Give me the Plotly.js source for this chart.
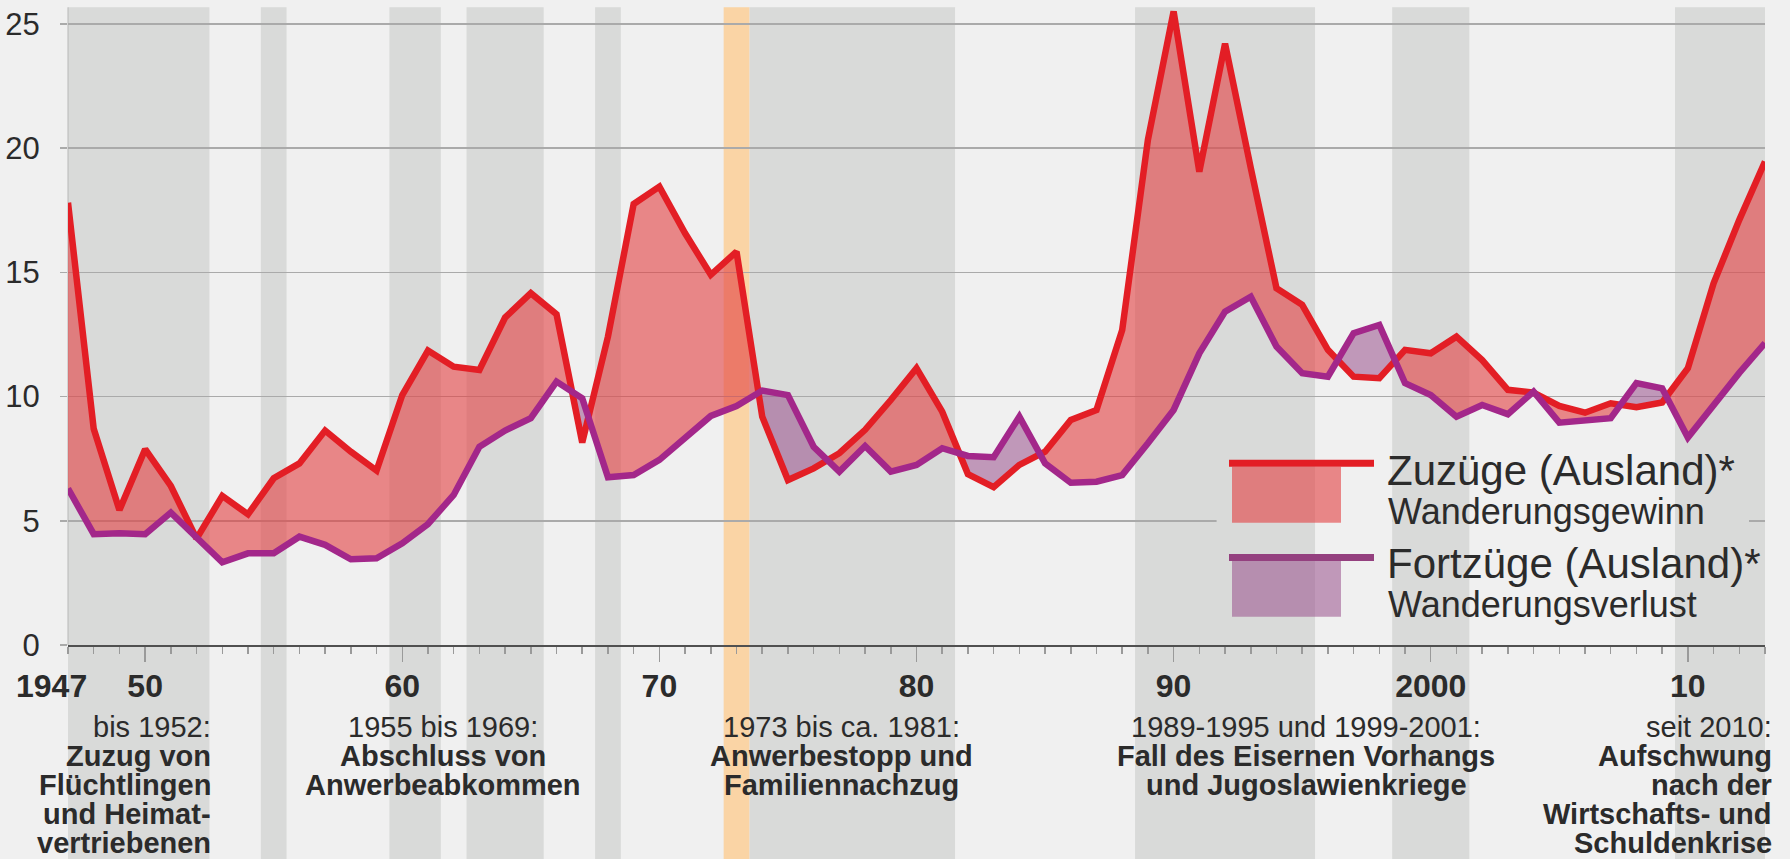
<!DOCTYPE html>
<html>
<head>
<meta charset="utf-8">
<script src="https://cdn.plot.ly/plotly-3.0.1.min.js"></script>
<style>
html,body{margin:0;padding:0;background:#f0f0f0;overflow:hidden}
#chart{width:1790px;height:859px}
</style>
</head>
<body>
<div id="chart"></div>
<script>
// ---------------- DATA ----------------
const years = [1947,1948,1949,1950,1951,1952,1953,1954,1955,1956,1957,1958,1959,
  1960,1961,1962,1963,1964,1965,1966,1967,1968,1969,
  1970,1971,1972,1973,1974,1975,1976,1977,1978,1979,
  1980,1981,1982,1983,1984,1985,1986,1987,1988,1989,
  1990,1991,1992,1993,1994,1995,1996,1997,1998,1999,
  2000,2001,2002,2003,2004,2005,2006,2007,2008,2009,
  2010,2011,2012,2013];
// Zuzüge (Ausland)*
const zuzuege = [17.8,8.7,5.43,7.88,6.4,4.28,6.0,5.26,6.71,7.31,8.63,7.78,7.02,
  10.06,11.85,11.2,11.07,13.18,14.16,13.31,8.15,12.41,17.75,
  18.45,16.57,14.9,15.83,9.19,6.64,7.11,7.72,8.66,9.86,
  11.14,9.39,6.88,6.35,7.25,7.78,9.06,9.46,12.68,20.33,
  25.5,19.05,24.2,19.2,14.36,13.69,11.88,10.8,10.74,11.88,
  11.74,12.41,11.47,10.27,10.16,9.62,9.35,9.73,9.57,9.76,
  11.14,14.56,17.11,19.46];
// Fortzüge (Ausland)*
const fortzuege = [6.3,4.46,4.5,4.46,5.33,4.35,3.33,3.69,3.69,4.36,4.03,3.45,3.49,
  4.09,4.87,6.04,7.98,8.63,9.13,10.6,9.93,6.75,6.84,
  7.45,8.32,9.22,9.62,10.24,10.06,7.98,6.98,8.01,6.98,
  7.25,7.92,7.61,7.56,9.19,7.31,6.53,6.57,6.84,8.12,
  9.46,11.74,13.42,14.02,12.01,10.94,10.8,12.55,12.88,10.54,
  10.06,9.19,9.66,9.29,10.2,8.95,9.06,9.13,10.54,10.33,
  8.35,9.7,10.95,12.15];

const yTicks = [0,5,10,15,20,25];
const xTickYears = [1950,1960,1970,1980,1990,2000,2010];
const xTickLabels = ['50','60','70','80','90','2000','10'];
const firstYearLabel = '1947';

const grayBands = [[1947,1952.5],[1954.5,1955.5],[1959.5,1961.5],[1962.5,1965.5],
  [1967.5,1968.5],[1973.5,1981.5],[1988.5,1995.5],[1998.5,2001.5],[2009.5,2013]];
const orangeBand = [1972.5,1973.5];

const periodHeads = ['bis 1952:','1955 bis 1969:','1973 bis ca. 1981:','1989-1995 und 1999-2001:','seit 2010:'];
const periodBodies = [
  ['Zuzug von','Flüchtlingen','und Heimat-','vertriebenen'],
  ['Abschluss von','Anwerbeabkommen'],
  ['Anwerbestopp und','Familiennachzug'],
  ['Fall des Eisernen Vorhangs','und Jugoslawienkriege'],
  ['Aufschwung','nach der','Wirtschafts- und','Schuldenkrise']
];
const legendLabels = ['Zuzüge (Ausland)*','Fortzüge (Ausland)*'];
const legendSubs = ['Wanderungsgewinn','Wanderungsverlust'];

// ---------------- STYLE / GEOMETRY ----------------
const FONT = 'Liberation Sans, Arial, Helvetica, sans-serif';
const TXT = '#2b2b2b';
const BG = '#f0f0f0';
const BAND = '#d9dad9';
const ORANGE = '#fad4a5';
const RED = '#e31e25';
const PURPLE = '#a3278a';
const RED_FILL = 'rgba(227,63,65,0.6)';
const PURPLE_FILL = 'rgba(153,80,140,0.55)';

const W = 1790, H = 859, ML = 68, MR = 25, MT = 0, MB = 214;
const PW = W - ML - MR, PH = H - MT - MB;
const px2x = px => (px - ML) / PW;           // pixel -> paper x
const py2y = py => (MT + PH - py) / PH;      // pixel -> paper y
const Y_MAX = 25.96;
const bandTop = py2y(7.3), bandBottom = py2y(H);

// ---------------- FILL BETWEEN ----------------
function withCrossings(x, a, b) {
  const X = [], A = [], B = [];
  for (let i = 0; i < x.length; i++) {
    X.push(x[i]); A.push(a[i]); B.push(b[i]);
    if (i < x.length - 1) {
      const d0 = a[i] - b[i], d1 = a[i+1] - b[i+1];
      if (d0 * d1 < 0) {
        const t = d0 / (d0 - d1);
        const xc = x[i] + t * (x[i+1] - x[i]);
        const yc = a[i] + t * (a[i+1] - a[i]);
        X.push(xc); A.push(yc); B.push(yc);
      }
    }
  }
  return {X, A, B};
}
const cr = withCrossings(years, zuzuege, fortzuege);
const hi = cr.A.map((v, i) => Math.max(v, cr.B[i]));
const hidden = {mode: 'lines', line: {width: 0}, hoverinfo: 'skip', showlegend: false};

const traces = [
  Object.assign({x: cr.X, y: cr.B}, hidden),
  Object.assign({x: cr.X, y: hi, fill: 'tonexty', fillcolor: RED_FILL}, hidden),
  Object.assign({x: cr.X, y: cr.A}, hidden),
  Object.assign({x: cr.X, y: hi, fill: 'tonexty', fillcolor: PURPLE_FILL}, hidden),
  {x: years, y: zuzuege, mode: 'lines', name: legendLabels[0], line: {color: RED, width: 6.5}, showlegend: false},
  {x: years, y: fortzuege, mode: 'lines', name: legendLabels[1], line: {color: PURPLE, width: 6.5}, showlegend: false}
];

// ---------------- SHAPES ----------------
const shapes = [];
grayBands.forEach(b => shapes.push({type: 'rect', xref: 'x', yref: 'paper', x0: b[0], x1: b[1],
  y0: bandBottom, y1: bandTop, fillcolor: BAND, line: {width: 0}, layer: 'below'}));
shapes.push({type: 'rect', xref: 'x', yref: 'paper', x0: orangeBand[0], x1: orangeBand[1],
  y0: bandBottom, y1: bandTop, fillcolor: ORANGE, line: {width: 0}, layer: 'below'});
// faint left edge line
shapes.push({type: 'line', xref: 'paper', yref: 'paper', x0: 0, x1: 0, y0: 0, y1: bandTop,
  line: {color: '#b8b8b8', width: 1}, layer: 'below'});

// gap in the 5-gridline behind the legend
const gap0 = 1947 + (1216.6 - ML) / PW * 66, gap1 = 1947 + (1749 - ML) / PW * 66;
(function () {
  const cuts = [gap0, gap1];
  grayBands.forEach(b => b.forEach(v => { if (v > gap0 && v < gap1) cuts.push(v); }));
  cuts.sort((p, q) => p - q);
  for (let i = 0; i < cuts.length - 1; i++) {
    const mid = (cuts[i] + cuts[i+1]) / 2;
    const inBand = grayBands.some(b => mid > b[0] && mid < b[1]);
    shapes.push({type: 'line', xref: 'x', yref: 'y', x0: cuts[i], x1: cuts[i+1], y0: 5, y1: 5,
      line: {color: inBand ? BAND : BG, width: 3}, layer: 'between'});
  }
})();

// legend symbols
const legY = [[463.3, 466.7, 522.7], [557.5, 561, 616.7]];
const legLineCol = [RED, '#94407f'];
const legFill = [RED_FILL, PURPLE_FILL];
legY.forEach((r, i) => {
  shapes.push({type: 'rect', xref: 'paper', yref: 'paper', x0: px2x(1232), x1: px2x(1341),
    y0: py2y(r[2]), y1: py2y(r[1]), fillcolor: legFill[i], line: {width: 0}, layer: 'above'});
  shapes.push({type: 'line', xref: 'paper', yref: 'paper', x0: px2x(1229), x1: px2x(1374),
    y0: py2y(r[0]), y1: py2y(r[0]), line: {color: legLineCol[i], width: 7}, layer: 'above'});
});

// ---------------- ANNOTATIONS ----------------
const annotations = [];
function txt(text, px, anchor, baseline, size, bold) {
  annotations.push({xref: 'paper', yref: 'paper', x: px2x(px), y: py2y(baseline - 0.3465 * size),
    xanchor: anchor, yanchor: 'middle', text: text, showarrow: false, borderpad: 0, borderwidth: 0,
    font: {family: FONT, size: size, color: TXT, weight: bold ? 700 : 400}});
}
const blockX = [[211, 'right'], [442.5, 'center'], [841.7, 'center'], [1306.3, 'center'], [1771.7, 'right']];
periodHeads.forEach((h, i) => {
  txt(h, blockX[i][0], blockX[i][1], 736.7, 29, false);
  periodBodies[i].forEach((ln, j) => txt(ln, blockX[i][0], blockX[i][1], 736.7 + 29 * (j + 1), 29, true));
});
txt(firstYearLabel, 87.3, 'right', 696.7, 32, true);
txt(legendLabels[0], 1387, 'left', 485, 42, false);
txt(legendSubs[0], 1388, 'left', 524, 36, false);
txt(legendLabels[1], 1387, 'left', 578.3, 42, false);
txt(legendSubs[1], 1388, 'left', 616.7, 36, false);

// ---------------- LAYOUT ----------------
const layout = {
  width: W, height: H,
  margin: {l: ML, r: MR, t: MT, b: MB, pad: 0},
  paper_bgcolor: BG, plot_bgcolor: BG,
  showlegend: false,
  xaxis: {
    range: [1947, 2013], tickmode: 'array', tickvals: xTickYears, ticktext: xTickLabels,
    ticks: 'outside', ticklen: 15, tickwidth: 1.5, tickcolor: '#9a9a9a',
    showline: true, linecolor: '#505050', linewidth: 2,
    showgrid: false, zeroline: false, automargin: false, ticklabelstandoff: -3,
    tickfont: {family: FONT, size: 32, color: TXT, weight: 700},
    minor: {tickmode: 'array', tickvals: years, ticks: 'outside', ticklen: 7, tickwidth: 1.5,
      tickcolor: '#9a9a9a', showgrid: false}
  },
  yaxis: {
    range: [0, Y_MAX], tickmode: 'array', tickvals: yTicks,
    ticks: 'outside', ticklen: 7, tickwidth: 1.5, tickcolor: '#aaaaaa',
    showgrid: true, gridcolor: '#aaaaaa', gridwidth: 1.5,
    zeroline: false, showline: false, automargin: false, ticklabelstandoff: 14,
    tickfont: {family: FONT, size: 31, color: TXT}
  },
  shapes: shapes,
  annotations: annotations
};

Plotly.newPlot('chart', traces, layout, {staticPlot: true, displayModeBar: false});
</script>
</body>
</html>
